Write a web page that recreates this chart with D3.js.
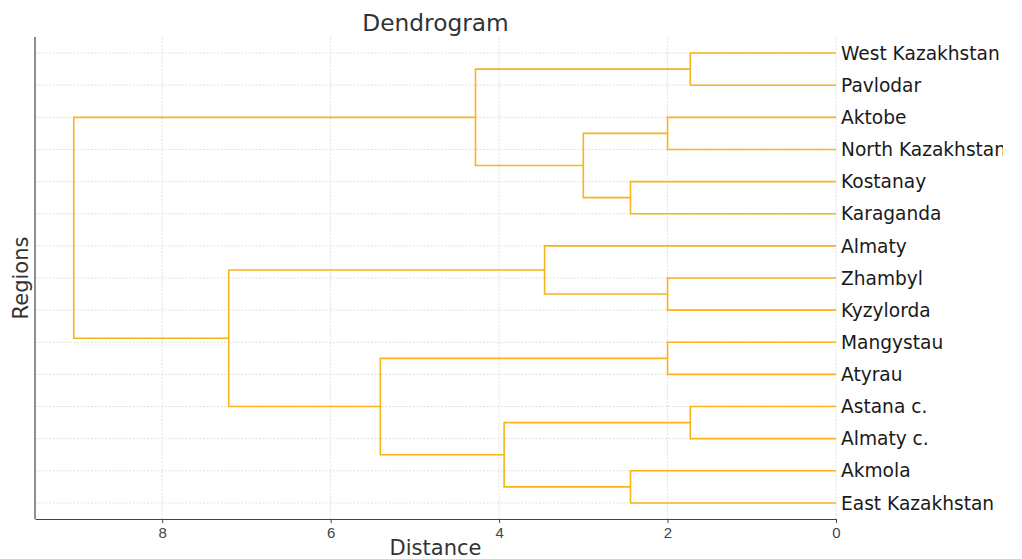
<!DOCTYPE html>
<html>
<head>
<meta charset="utf-8">
<script src="https://cdn.jsdelivr.net/npm/d3@7"></script>
<style>
  body { margin: 0; background: #fff; }
  svg { display: block; font-family: "DejaVu Sans", sans-serif; }
</style>
</head>
<body>
<div id="chart"></div>
<script>
// Leaves, top to bottom as they appear
const regions = [
    "West Kazakhstan", "Pavlodar", "Aktobe", "North Kazakhstan", "Kostanay",
    "Karaganda", "Almaty", "Zhambyl", "Kyzylorda", "Mangystau", "Atyrau",
    "Astana c.", "Almaty c.", "Akmola", "East Kazakhstan"
];

// Linkage: each merge joins two node ids (leaves 0..14, clusters 15..)
const mergePairs = [
    [0, 1], [2, 3], [4, 5], [16, 17], [15, 18],
    [7, 8], [6, 20], [9, 10], [11, 12], [13, 14],
    [23, 24], [22, 25], [21, 26], [19, 27]
];
const mergeHeights = [1.73, 2.0, 2.44, 3.0, 4.28, 2.0, 3.46, 2.0, 1.73, 2.44, 3.94, 5.41, 7.21, 9.05];

const xTicks = [0, 2, 4, 6, 8];

const width = 1022, height = 559;
const margin = { top: 37, right: 186, bottom: 40, left: 35 };
const lineColor = "#f5b617";

const svg = d3.select("#chart").append("svg")
    .attr("width", width)
    .attr("height", height);

// the original figure is cut off just right of the longest labels
svg.append("defs").append("clipPath")
    .attr("id", "fig-clip")
    .append("rect")
    .attr("x", 0).attr("y", 0)
    .attr("width", 1003).attr("height", height);

const x = d3.scaleLinear()
    .domain([9.51, 0])
    .range([margin.left, width - margin.right]);

// scipy-style leaf coordinates: 5, 15, ... from the bottom
const n = regions.length;
const y = d3.scaleLinear()
    .domain([0, n * 10])
    .range([height - margin.bottom, margin.top]);
const leafPos = regions.map((d, i) => (n - 1 - i) * 10 + 5);

// positions and heights of every node
const pos = leafPos.slice();
const hgt = regions.map(() => 0);
mergePairs.forEach(([a, b], i) => {
    pos.push((pos[a] + pos[b]) / 2);
    hgt.push(mergeHeights[i]);
});

// grid
const grid = svg.append("g")
    .attr("stroke", "#d8d8d8")
    .attr("stroke-width", 0.8)
    .attr("stroke-dasharray", "2,1.5");
grid.selectAll(".hg")
    .data(leafPos)
    .join("line")
    .attr("x1", x.range()[0]).attr("x2", x.range()[1])
    .attr("y1", d => y(d)).attr("y2", d => y(d));
grid.selectAll(".vg")
    .data(xTicks)
    .join("line")
    .attr("x1", d => x(d)).attr("x2", d => x(d))
    .attr("y1", y.range()[0]).attr("y2", y.range()[1]);

// links
svg.append("g")
    .attr("fill", "none")
    .attr("stroke", lineColor)
    .attr("stroke-width", 1.6)
    .selectAll("path")
    .data(mergePairs.map(([a, b], i) => ({ a, b, h: mergeHeights[i] })))
    .join("path")
    .attr("d", d => {
        const p = d3.path();
        p.moveTo(x(hgt[d.a]), y(pos[d.a]));
        p.lineTo(x(d.h), y(pos[d.a]));
        p.lineTo(x(d.h), y(pos[d.b]));
        p.lineTo(x(hgt[d.b]), y(pos[d.b]));
        return p.toString();
    });

// x axis
const xAxis = svg.append("g")
    .attr("transform", `translate(0,${y.range()[0]})`)
    .call(d3.axisBottom(x).tickValues(xTicks).tickFormat(d3.format("d")).tickSize(4).tickSizeOuter(0).tickPadding(4));
xAxis.select(".domain").attr("stroke", "#444").attr("stroke-width", 1.2);
xAxis.selectAll(".tick line").attr("stroke", "#444");
xAxis.selectAll(".tick text").attr("fill", "#444").attr("font-size", 15);

// left spine
svg.append("line")
    .attr("x1", margin.left).attr("x2", margin.left)
    .attr("y1", y.range()[0]).attr("y2", y.range()[1])
    .attr("stroke", "#444").attr("stroke-width", 1.2);

// leaf labels
svg.append("g")
    .attr("clip-path", "url(#fig-clip)")
    .selectAll("text")
    .data(regions)
    .join("text")
    .attr("x", x(0) + 5)
    .attr("y", (d, i) => y(leafPos[i]))
    .attr("dy", "0.36em")
    .attr("font-size", 18.6)
    .attr("fill", "#1a1a1a")
    .text(d => d);

// title and axis labels
svg.append("text")
    .attr("x", (x.range()[0] + x.range()[1]) / 2)
    .attr("y", 31)
    .attr("text-anchor", "middle")
    .attr("font-size", 23.3)
    .attr("fill", "#333")
    .text("Dendrogram");

svg.append("text")
    .attr("x", (x.range()[0] + x.range()[1]) / 2)
    .attr("y", 555)
    .attr("text-anchor", "middle")
    .attr("font-size", 21)
    .attr("fill", "#333")
    .text("Distance");

svg.append("text")
    .attr("transform", `translate(28,${(y.range()[0] + y.range()[1]) / 2}) rotate(-90)`)
    .attr("text-anchor", "middle")
    .attr("font-size", 21)
    .attr("fill", "#333")
    .text("Regions");
</script>
</body>
</html>
